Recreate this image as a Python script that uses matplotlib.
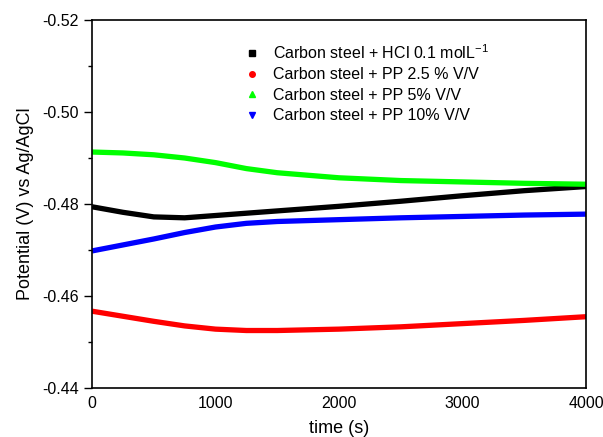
import matplotlib.pyplot as plt
import numpy as np
from matplotlib.ticker import MultipleLocator, FormatStrFormatter

plt.rcParams['font.family'] = ['Liberation Sans', 'DejaVu Sans']
plt.rcParams['mathtext.fontset'] = 'custom'
plt.rcParams['mathtext.rm'] = 'Liberation Sans'
plt.rcParams['mathtext.it'] = 'Liberation Sans:italic'
plt.rcParams['mathtext.default'] = 'regular'

# time (s)
time_s = [0, 250, 500, 750, 1000, 1250, 1500, 2000, 2500, 3000, 3500, 4000]

# potential (V) vs Ag/AgCl
hcl = [-0.4794, -0.4782, -0.4772, -0.4770, -0.4775, -0.4780, -0.4785,
       -0.4795, -0.4806, -0.4818, -0.4829, -0.4838]
pp_2_5 = [-0.4567, -0.4556, -0.4545, -0.4535, -0.4528, -0.4525, -0.4525,
          -0.4528, -0.4533, -0.4540, -0.4547, -0.4555]
pp_5 = [-0.4913, -0.4911, -0.4907, -0.4900, -0.4890, -0.4877, -0.4868,
        -0.4857, -0.4851, -0.4848, -0.4845, -0.4843]
pp_10 = [-0.4698, -0.4711, -0.4724, -0.4738, -0.4750, -0.4758, -0.4762,
         -0.4766, -0.4770, -0.4773, -0.4776, -0.4778]

labels = ["Carbon steel + HCl 0.1 molL$^{-1}$",
          "Carbon steel + PP 2.5 % V/V",
          "Carbon steel + PP 5% V/V",
          "Carbon steel + PP 10% V/V"]
series = [hcl, pp_2_5, pp_5, pp_10]
colors = ["black", "red", "#00ff00", "blue"]
markers = ["s", "o", "^", "v"]

fig = plt.figure(figsize=(6.03, 4.37), dpi=100)
ax = fig.add_axes([0.1526, 0.1121, 0.8192, 0.8421])

for y, c, m, lab in zip(series, colors, markers, labels):
    ax.plot(time_s, y, color=c, lw=3.8, solid_capstyle='butt')
    # legend handle: small marker only
    ax.plot([], [], ls='none', marker=m, color=c, ms=4, label=lab)

ax.set_xlim(0, 4000)
ax.set_ylim(-0.44, -0.52)
ax.yaxis.set_major_locator(MultipleLocator(0.02))
ax.yaxis.set_minor_locator(MultipleLocator(0.01))
ax.yaxis.set_major_formatter(FormatStrFormatter('%.2f'))
ax.xaxis.set_major_locator(MultipleLocator(1000))

ax.tick_params(axis='y', which='major', direction='out', length=6, width=1, labelsize=11.5)
ax.tick_params(axis='y', which='minor', direction='out', length=3, width=1)
ax.tick_params(axis='x', which='major', length=0, labelsize=11.5, pad=6)
for s in ax.spines.values():
    s.set_linewidth(1.2)

ax.set_xlabel("time (s)", fontsize=13, labelpad=6)
ax.set_ylabel("Potential (V) vs Ag/AgCl", fontsize=13, labelpad=6)

ax.legend(loc='upper left', bbox_to_anchor=(0.295, 0.955), frameon=False,
          fontsize=11.5, handlelength=1.0, handletextpad=0.8,
          labelspacing=0.35, borderaxespad=0)

fig.savefig("out.png", dpi=100)
